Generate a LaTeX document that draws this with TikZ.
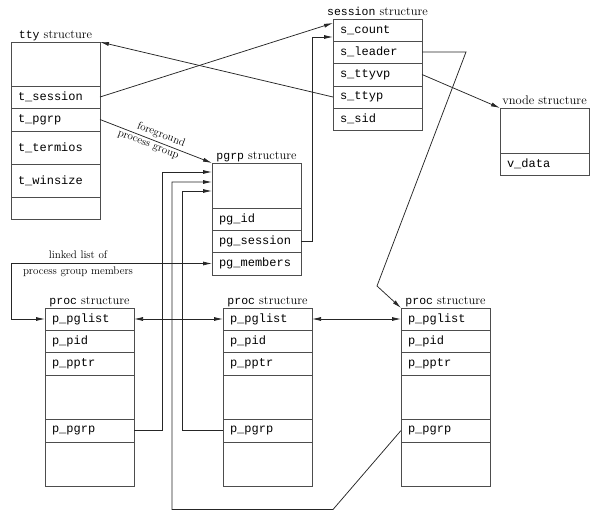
\documentclass[tikz,border=0pt]{standalone}
\usepackage{fontspec}
\setmonofont{Liberation Mono}
\usetikzlibrary{arrows.meta}
\definecolor{boxc}{HTML}{4D4D4D}
\definecolor{linec}{HTML}{262626}
\newcommand\tn[1]{{\fontsize{11.5}{12}\selectfont\ttfamily #1}}
\begin{document}
\begin{tikzpicture}[x=1pt,y=-1pt,
  row/.style={draw=boxc, line width=0.8pt, outer sep=0pt, inner xsep=7pt, inner ysep=0pt,
    text width=75pt, align=left, anchor=north west, minimum height=22pt,
    font=\fontsize{12}{12}\selectfont\ttfamily},
  title/.style={anchor=base, inner sep=0pt, font=\fontsize{12.5}{13}\selectfont},
  conn/.style={draw=linec, line width=0.75pt},
  arr/.style={conn, -{Latex[length=9pt,width=4pt]}},
  dbl/.style={conn, {Latex[length=9pt,width=4pt]}-{Latex[length=9pt,width=4pt]}},
  lbl/.style={font=\fontsize{11}{12}\selectfont, inner sep=1pt}
]
\useasboundingbox (0,0) rectangle (600,520);

% tty structure
\node[row, minimum height=44pt] (tty0) at (11,42) {};
\node[row] (tsess) at (11,86) {t\_session};
\node[row, minimum height=23pt] (tpgrp) at (11,108) {t\_pgrp};
\node[row, minimum height=33pt] (tterm) at (11,131) {t\_termios};
\node[row, minimum height=33pt] (twin) at (11,164) {t\_winsize};
\node[row] (tty5) at (11,197) {};
\node[title] (ttyT) at ([yshift=4pt]tty0.north) {\tn{tty} structure};

% session structure
\node[row] (scount) at (333,19) {s\_count};
\node[row] (sleader) at (333,41) {s\_leader};
\node[row, minimum height=23pt] (sttyvp) at (333,63) {s\_ttyvp};
\node[row] (sttyp) at (333,86) {s\_ttyp};
\node[row] (ssid) at (333,108) {s\_sid};
\node[title] (sessT) at ([yshift=4pt]scount.north) {\tn{session} structure};

% vnode structure
\node[row, minimum height=45pt] (v0) at (500,108) {};
\node[row] (vdata) at (500,153) {v\_data};
\node[title] (vT) at ([yshift=4pt]v0.north) {vnode structure};

% pgrp structure
\node[row, minimum height=45pt] (pg0) at (212,163) {};
\node[row] (pgid) at (212,208) {pg\_id};
\node[row] (pgsess) at (212,230) {pg\_session};
\node[row, minimum height=23pt] (pgmem) at (212,252) {pg\_members};
\node[title] (pgT) at ([yshift=4pt]pg0.north) {\tn{pgrp} structure};

% proc structures
\foreach \n/\x in {A/45, B/223, C/401}{
  \node[row] (p\n list) at (\x,308) {p\_pglist};
  \node[row] (p\n pid) at (\x,330) {p\_pid};
  \node[row, minimum height=23pt] (p\n pptr) at (\x,352) {p\_pptr};
  \node[row, minimum height=44pt] (p\n 3) at (\x,375) {};
  \node[row, minimum height=23pt] (p\n pgrp) at (\x,419) {p\_pgrp};
  \node[row, minimum height=44pt] (p\n 5) at (\x,442) {};
  \node[title] (p\n T) at ([yshift=4pt]p\n list.north) {\tn{proc} structure};
}

% connectors
\draw[arr] (sttyp.west) -- (tty0.north east);
\draw[arr] (tsess.east) -- ([yshift=-4pt]scount.north west);
\draw[arr] (pgsess.east) -- ++(11,0) |- ([yshift=-18pt]scount.north west);
\draw[arr] (sleader.east) -- ++(44,0) -- (377,286) -- (pClist.north west);
\draw[arr] (sttyvp.east) -- (v0.north west);
\draw[arr] (tpgrp.east) -- (pg0.north west)
  node[lbl, pos=0.52, sloped, above, inner sep=2.5pt] {foreground}
  node[lbl, pos=0.45, sloped, below, inner sep=3pt] {process group};

\draw[arr] (pApgrp.east) -- ++(28,0) |- ([yshift=-9pt]pg0.north west);
\draw[arr] (pCpgrp.west) -- ++(-68,79) -- ++(-161,0) |- ([yshift=-19pt]pg0.north west);
\draw[arr] (pBpgrp.west) -- ++(-41,0) |- ([yshift=-28pt]pg0.north west);

\draw[dbl] (pgmem.west) -- ++(-201,0) |- (pAlist.west);
\node[lbl] (ll1) at (78,255) {linked list of};
\node[lbl] (ll2) at (78,272) {process group members};

\draw[dbl] (pAlist.east) -- (pBlist.west);
\draw[dbl] (pBlist.east) -- (pClist.west);
\end{tikzpicture}
\end{document}
